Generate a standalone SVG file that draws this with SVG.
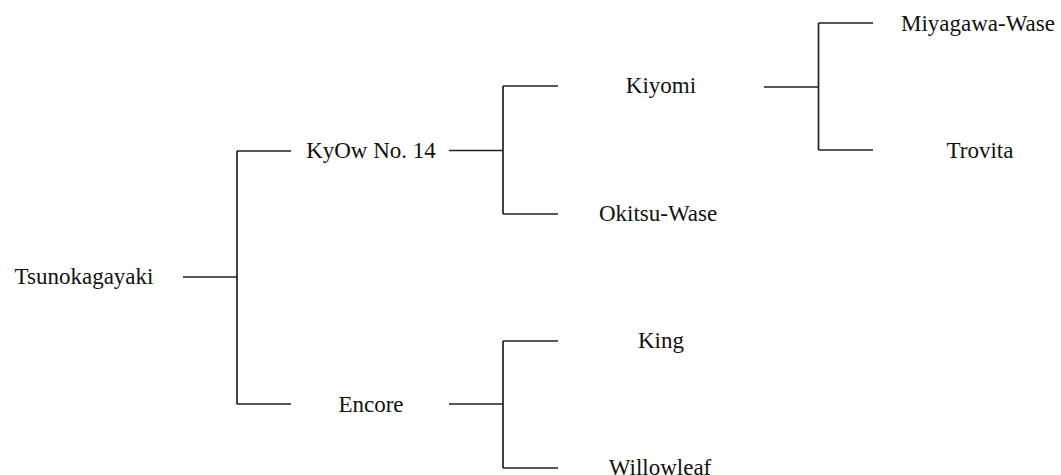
<svg xmlns="http://www.w3.org/2000/svg" width="1061" height="475" viewBox="0 0 1061 475">
<style>
text{font-family:'Liberation Serif','Times New Roman','DejaVu Serif',serif;font-size:23px;fill:#111;text-anchor:middle}
.c{fill:none;stroke:#222;stroke-width:1.7}
</style>
<rect width="1061" height="475" fill="#fff"/>
<g id="connectors">
<path class="c" d="M183,277H237M237,151V404M237,151H291M237,404H291"/>
<path class="c" d="M449,150.5H503M503,86V214M503,86H558M503,214H558"/>
<path class="c" d="M449,404H503M503,341V468M503,341H558M503,468H558"/>
<path class="c" d="M764,87H818.5M818.5,23V150M818.5,23H873M818.5,150H873"/>
</g>
<g id="n-tsunokagayaki"><text x="84" y="284">Tsunokagayaki</text></g>
<g id="n-kyow"><text x="371" y="158">KyOw No. 14</text></g>
<g id="n-encore"><text x="371" y="412">Encore</text></g>
<g id="n-kiyomi"><text x="661" y="93">Kiyomi</text></g>
<g id="n-okitsu"><text x="658" y="221">Okitsu-Wase</text></g>
<g id="n-king"><text x="661" y="348">King</text></g>
<g id="n-willowleaf"><text x="660" y="474.5">Willowleaf</text></g>
<g id="n-miyagawa"><text x="978" y="31">Miyagawa-Wase</text></g>
<g id="n-trovita"><text x="980" y="158">Trovita</text></g>
</svg>
